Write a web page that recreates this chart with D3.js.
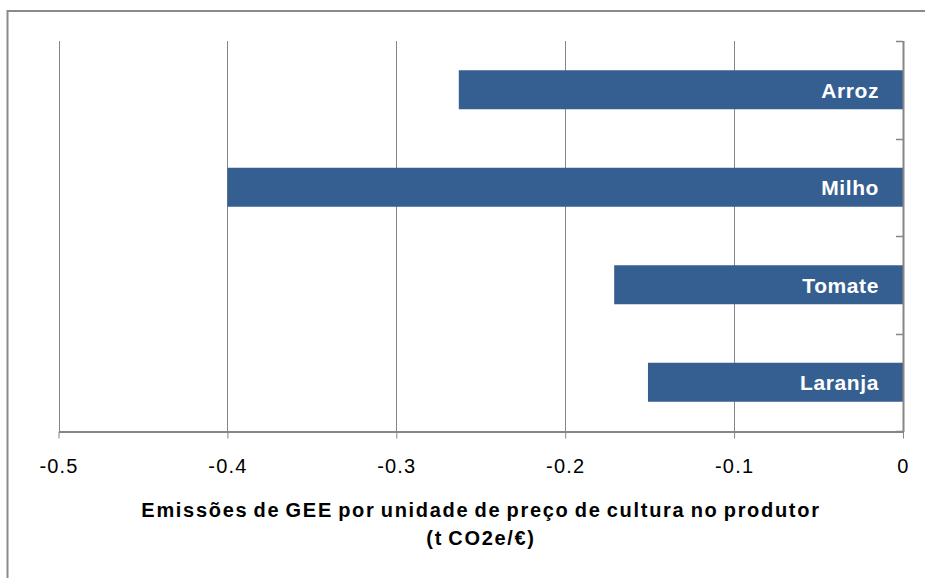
<!DOCTYPE html>
<html><head><meta charset="utf-8">
<script src="https://cdn.jsdelivr.net/npm/d3@7"></script>
<style>body{margin:0;background:#fff}svg{display:block}</style>
</head><body>
<script>
const categories = ["Arroz", "Milho", "Tomate", "Laranja"];
const values = [-0.263, -0.400, -0.171, -0.151];
const tickValues = [-0.5, -0.4, -0.3, -0.2, -0.1, 0];
const tickLabels = ["-0.5", "-0.4", "-0.3", "-0.2", "-0.1", "0"];
const titleLines = ["Emissões de GEE por unidade de preço de cultura no produtor", "(t CO2e/€)"];

const W = 925, H = 578;
const svg = d3.select("body").append("svg").attr("width", W).attr("height", H);
const font = "'Liberation Sans', Arial, sans-serif";

// outer frame (cropped at right/bottom)
svg.append("path").attr("d", "M7.5,600 V11 H940")
  .attr("fill", "none").attr("stroke", "#8a8a8a").attr("stroke-width", 2);

const x = d3.scaleLinear().domain([-0.5, 0]).range([58.5, 903]);
const y = d3.scaleBand().domain(categories).range([41, 431]).paddingInner(0.6).paddingOuter(0.3);

// vertical gridlines
svg.append("g").selectAll("line").data(tickValues.slice(0, -1)).join("line")
  .attr("x1", d => Math.round(x(d)) + 0.5).attr("x2", d => Math.round(x(d)) + 0.5)
  .attr("y1", 41).attr("y2", 431)
  .attr("stroke", "#868686").attr("stroke-width", 1);

// bars
svg.append("g").selectAll("rect").data(categories).join("rect")
  .attr("x", (d, i) => x(values[i])).attr("width", (d, i) => x(0) - x(values[i]))
  .attr("y", d => y(d)).attr("height", y.bandwidth())
  .attr("fill", "#365F91");

// bar labels
svg.append("g").selectAll("text").data(categories).join("text")
  .attr("x", 879).attr("y", d => y(d) + y.bandwidth() / 2 + 8)
  .attr("text-anchor", "end").attr("fill", "#fff")
  .attr("font-family", font).attr("font-weight", "bold").attr("font-size", 21)
  .attr("letter-spacing", "0.6px")
  .text(d => d);

// bottom axis
const xAxis = d3.axisBottom(x).tickValues(tickValues).tickFormat((d, i) => tickLabels[i]).tickSize(7).tickSizeOuter(0);
const gx = svg.append("g").attr("transform", "translate(0,431.5)").call(xAxis);
gx.select(".domain").attr("stroke", "#868686").attr("stroke-width", 2);
gx.selectAll(".tick line").attr("stroke", "#868686");
gx.selectAll(".tick text").attr("font-family", font).attr("font-size", 20)
  .attr("fill", "#000").attr("letter-spacing", "1.2px").attr("y", 27).attr("dy", "0.71em");

// right axis (y) with ticks at category boundaries
const boundaries = d3.range(categories.length + 1).map(i => 41 + i * (390 / categories.length));
const gy = svg.append("g");
gy.append("line").attr("x1", 903.5).attr("x2", 903.5).attr("y1", 41).attr("y2", 432)
  .attr("stroke", "#868686").attr("stroke-width", 2);
gy.selectAll("line.t").data(boundaries).join("line").attr("class", "t")
  .attr("x1", 896).attr("x2", 903).attr("y1", d => Math.round(d) + 0.5).attr("y2", d => Math.round(d) + 0.5)
  .attr("stroke", "#868686").attr("stroke-width", 1.5);

// axis title
svg.append("g").selectAll("text").data(titleLines).join("text")
  .attr("x", 481).attr("y", (d, i) => 517 + i * 28)
  .attr("text-anchor", "middle").attr("font-family", font).attr("font-weight", "bold")
  .attr("font-size", 20).attr("fill", "#000")
  .attr("letter-spacing", "1.7px").attr("word-spacing", "-2px")
  .text(d => d);
</script>
</body></html>
